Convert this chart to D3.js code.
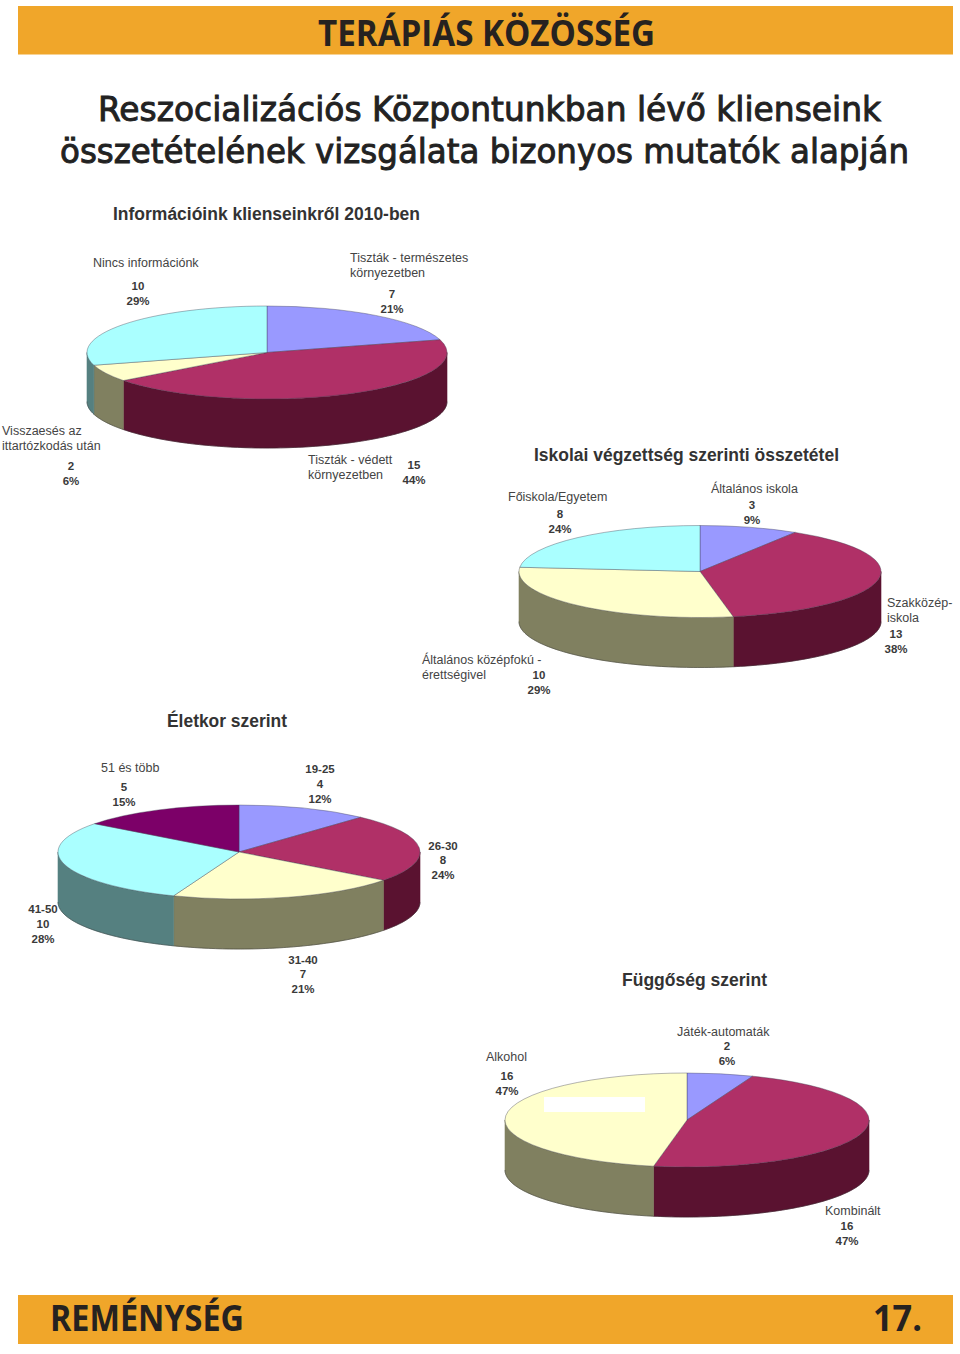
<!DOCTYPE html>
<html><head><meta charset="utf-8">
<script src="https://cdnjs.cloudflare.com/ajax/libs/d3/7.8.5/d3.min.js"></script>
<style>html,body{margin:0;padding:0;background:#fff}svg{display:block}</style></head>
<body><svg id="c" width="960" height="1354"></svg>
<script>
// ---- data ----
const infoCategories = [["Tiszták - természetes","környezetben"],["Tiszták - védett","környezetben"],["Visszaesés az","ittartózkodás után"],["Nincs információnk"]];
const infoValues = [7,15,2,10];
const infoPercents = ["21%","44%","6%","29%"];
const schoolCategories = [["Általános iskola"],["Szakközép-","iskola"],["Általános középfokú -","érettségivel"],["Főiskola/Egyetem"]];
const schoolValues = [3,13,10,8];
const schoolPercents = ["9%","38%","29%","24%"];
const ageCategories = [["19-25"],["26-30"],["31-40"],["41-50"],["51 és több"]];
const ageValues = [4,8,7,10,5];
const agePercents = ["12%","24%","21%","28%","15%"];
const addictionCategories = [["Játék-automaták"],["Kombinált"],["Alkohol"]];
const addictionValues = [2,16,16];
const addictionPercents = ["6%","47%","47%"];

// ---- style / layout ----
const C = {blue:"#9999ff",red:"#b03067",yellow:"#ffffcc",cyan:"#aaffff",purple:"#7c0068"};
const S = {blue:"#55558f",red:"#5a1230",yellow:"#808060",cyan:"#558080",purple:"#450038"};
const svg = d3.select("#c");
const bandColor = "#f0a62a", ink="#262220", labelInk="#444";
const cond = "'Open Sans','Liberation Sans',sans-serif";

function band(y,h){svg.append("rect").attr("x",18).attr("y",y).attr("width",935).attr("height",h).attr("fill",bandColor);}
band(6,48.5); band(1295,49);
function fitted(txt,x,y,w,size,fam,weight,color){
  return svg.append("text").attr("x",x).attr("y",y).attr("textLength",w).attr("lengthAdjust","spacingAndGlyphs")
   .attr("font-family",fam).attr("font-size",size).attr("font-weight",weight).attr("fill",color).text(txt);
}
fitted("TERÁPIÁS KÖZÖSSÉG",318,46,337,36,cond,700,ink);
fitted("REMÉNYSÉG",50,1331,194,36,cond,700,ink);
fitted("17.",873,1331,49,36,cond,700,ink);
fitted("Reszocializációs Központunkban lévő klienseink",98,121,783,33.5,"'DejaVu Sans'",400,"#222").attr("stroke","#222").attr("stroke-width",.95);
fitted("összetételének vizsgálata bizonyos mutatók alapján",60,163,849,33.5,"'DejaVu Sans'",400,"#222").attr("stroke","#222").attr("stroke-width",.95);

function heading(t,x,y,w){fitted(t,x,y,w,17.5,"'Liberation Sans'",700,"#333");}
heading("Információink klienseinkről 2010-ben",113,220,307);
heading("Iskolai végzettség szerinti összetétel",534,461,305);
heading("Életkor szerint",167,727,120);
heading("Függőség szerint",622,986,145);

const pieGen = d3.pie().sort(null).value(d=>d);
function drawPie(values,keys,o){
  const {cx,cy,rx,ry,depth} = o;
  const arcs = pieGen(values);
  const g = svg.append("g");
  const x = a=>cx+rx*Math.sin(a), y=a=>cy-ry*Math.cos(a);
  // outer wall: visible front half only
  const line = d3.line();
  arcs.forEach((d,i)=>{
    const a0=Math.max(d.startAngle,Math.PI/2), a1=Math.min(d.endAngle,Math.PI*1.5);
    if(a1<=a0) return;
    const n=Math.ceil((a1-a0)/0.02);
    const top=d3.range(n+1).map(k=>{const a=a0+(a1-a0)*k/n;return [x(a),y(a)];});
    const bottom=top.slice().reverse().map(p=>[p[0],p[1]+depth]);
    g.append("path").attr("d",line(top.concat(bottom))+"Z")
      .attr("fill",S[keys[i]]).attr("stroke",S[keys[i]]).attr("stroke-width",.6);
    g.append("path").attr("d",line(bottom)).attr("fill","none").attr("stroke","#2a2a2a").attr("stroke-width",.7).attr("stroke-opacity",.6);
  });
  // top face, a d3.arc squashed into an ellipse
  const arc=d3.arc().innerRadius(0).outerRadius(rx);
  const face=g.append("g").attr("transform",`translate(${cx},${cy}) scale(1,${ry/rx})`);
  face.selectAll("path").data(arcs).join("path").attr("d",arc)
    .attr("fill",(d,i)=>C[keys[i]])
    .attr("stroke","#3d3d50").attr("stroke-width",.7).attr("vector-effect","non-scaling-stroke").attr("stroke-opacity",.55);
}
function labels(cats,vals,pcts,pos){
  const sm="'Liberation Sans',Arial,sans-serif";
  const val=(t,x,y)=>svg.append("text").attr("x",x).attr("y",y).attr("text-anchor","middle").attr("font-family",sm)
      .attr("font-size",11.5).attr("font-weight",700).attr("fill","#3a3a3a").text(t);
  cats.forEach((lines,i)=>{
    const p=pos[i];
    if(p.bold){ val(lines[0],p.vx,p.name); }
    else {
      lines.forEach((t,k)=>svg.append("text").attr("x",p.x).attr("y",p.y+k*15.2).attr("font-family",sm)
        .attr("font-size",12.5).attr("fill",labelInk).text(t));
    }
    val(vals[i],p.vx,p.vy);
    val(pcts[i],p.vx,p.vy+14.6);
  });
}
drawPie(infoValues,["blue","red","yellow","cyan"],{cx:267,cy:352.5,rx:180,ry:46.5,depth:49});
labels(infoCategories,infoValues,infoPercents,[
 {x:350,y:262,vx:392,vy:298},{x:308,y:464,vx:414,vy:469},{x:2,y:435,vx:71,vy:470},{x:93,y:267,vx:138,vy:290}]);
drawPie(schoolValues,["blue","red","yellow","cyan"],{cx:700,cy:571.5,rx:181,ry:46,depth:50});
labels(schoolCategories,schoolValues,schoolPercents,[
 {x:711,y:493,vx:752,vy:509},{x:887,y:607,vx:896,vy:638},{x:422,y:664,vx:539,vy:679},{x:508,y:501,vx:560,vy:518}]);
drawPie(ageValues,["blue","red","yellow","cyan","purple"],{cx:239,cy:852,rx:181,ry:47,depth:50});
labels(ageCategories,ageValues,agePercents,[
 {bold:1,name:773,vx:320,vy:788},{bold:1,name:850,vx:443,vy:864},{bold:1,name:964,vx:303,vy:978},{bold:1,name:913,vx:43,vy:928},{x:101,y:772,vx:124,vy:791}]);
drawPie(addictionValues,["blue","red","yellow"],{cx:687,cy:1120,rx:182,ry:47,depth:50});
labels(addictionCategories,addictionValues,addictionPercents,[
 {x:677,y:1036,vx:727,vy:1050},{x:825,y:1215,vx:847,vy:1230},{x:486,y:1061,vx:507,vy:1080}]);
// white patch lying on the last pie in the source page
svg.append("rect").attr("x",544).attr("y",1097).attr("width",101).attr("height",15).attr("fill","#fff");
</script></body></html>
